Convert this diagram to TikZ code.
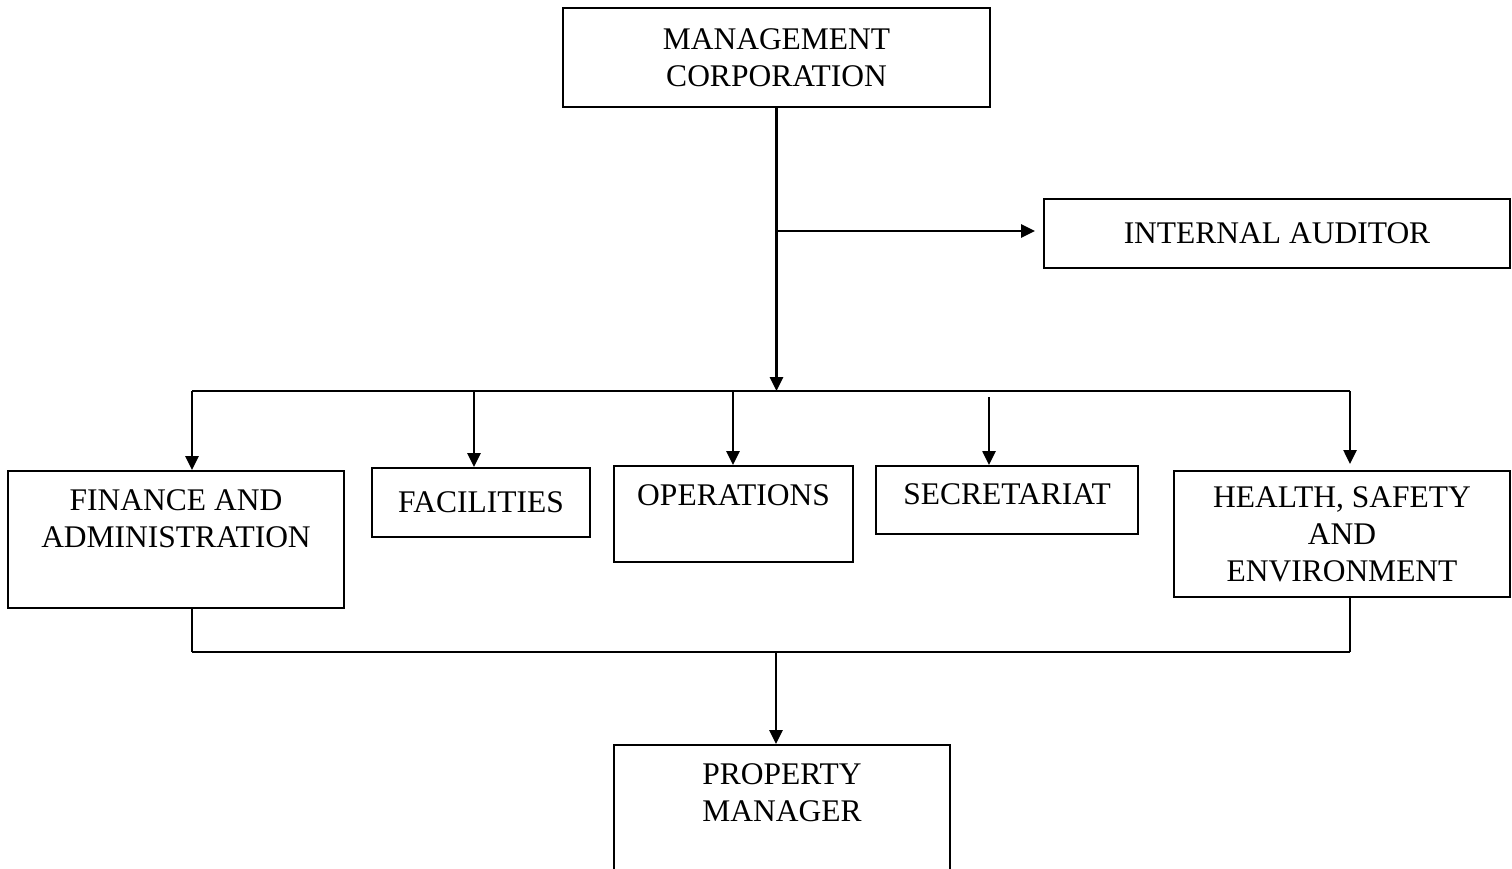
\documentclass[tikz,border=0pt]{standalone}
\usepackage{fontspec}
\setmainfont{Liberation Serif}
\usetikzlibrary{arrows.meta,positioning}
\tikzset{
  unit/.style={draw,line width=2pt,inner sep=0pt,align=center},
  toptext/.style={anchor=north,yshift=-19pt,inner sep=0pt,align=center},
  flow/.style={line width=2.6pt,-{Triangle[length=14pt,width=13pt]}},
  bus/.style={line width=2.6pt},
  drop/.style={line width=1.8pt},
}
\begin{document}
\begin{tikzpicture}[x=1pt,y=-1pt,font=\fontsize{31.5}{37}\selectfont]
  \useasboundingbox (0,0) rectangle (1512,868);
  % top of the chart
  \node[unit,minimum width=427pt,minimum height=99pt] (mgmt) at (776.5,57.5)
    {MANAGEMENT\\CORPORATION};
  \node[unit,minimum width=466pt,minimum height=69pt] (audit) at (1277,233.5)
    {INTERNAL AUDITOR};
  % departments
  \node[unit,minimum width=336pt,minimum height=137pt,
        label={[toptext]north:FINANCE AND\\ADMINISTRATION}] (fin) at (176,539.5) {};
  \node[unit,minimum width=218pt,minimum height=69pt] (fac) at (481,502.5) {FACILITIES};
  \node[unit,minimum width=239pt,minimum height=96pt,
        label={[toptext]north:OPERATIONS}] (ops) at (733.5,514) {};
  \node[unit,minimum width=262pt,minimum height=68pt,
        label={[toptext,yshift=1pt]north:SECRETARIAT}] (sec) at (1007,500) {};
  \node[unit,minimum width=336pt,minimum height=126pt] (hse) at (1342,534)
    {HEALTH, SAFETY\\AND\\ENVIRONMENT};
  % bottom
  \node[unit,minimum width=336pt,minimum height=150pt,
        label={[toptext]north:PROPERTY\\MANAGER}] (prop) at (782,820) {};

  \coordinate (hub) at (776.5,391);
  \coordinate (tap) at (776.5,231);
  \coordinate (b1) at (192,391);
  \coordinate (b2) at (474,391);
  \coordinate (b3) at (733,391);
  \coordinate (b4) at (989,397);
  \coordinate (b5) at (1350,391);
  \coordinate (j1) at (192,652);
  \coordinate (j0) at (776,652);
  \coordinate (j2) at (1350,652);

  \draw[bus] (mgmt.south) -- (tap);
  \draw[flow] (tap) -- (hub);
  \draw[flow,shorten >=8pt] (tap) -- (tap -| audit.west);
  \draw[bus] (b1) -- (b5);
  \draw[flow] (b1) -- (b1 |- fin.north);
  \draw[flow] (b2) -- (b2 |- fac.north);
  \draw[flow] (b3) -- (b3 |- ops.north);
  \draw[flow] (b4) -- (b4 |- sec.north);
  \draw[flow,shorten >=6pt] (b5) -- (b5 |- hse.north);

  \draw[drop] (j1 |- fin.south) -- (j1);
  \draw[drop] (j2 |- hse.south) -- (j2);
  \draw[bus] (j1) -- (j2);
  \draw[flow] (j0) -- (j0 |- prop.north);
\end{tikzpicture}
\end{document}
